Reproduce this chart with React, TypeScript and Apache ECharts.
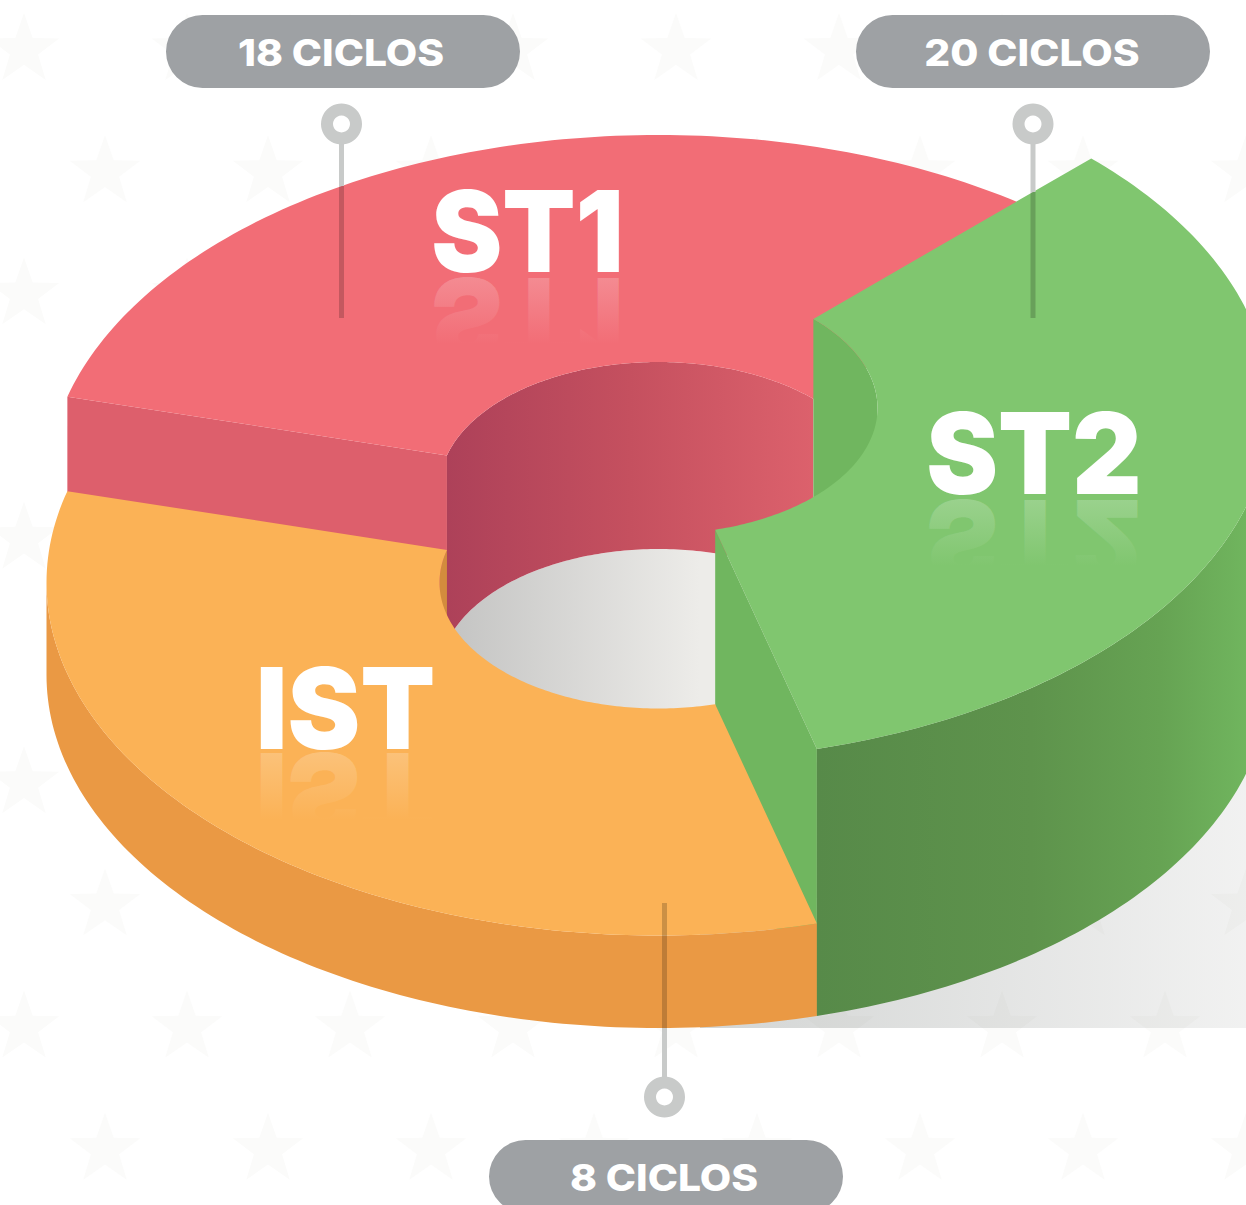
import React, { useEffect, useRef } from "react";
import * as echarts from "echarts";

const categories = ["ST1", "ST2", "IST"];
const cycles = [18, 20, 8];
const unitLabel = "CICLOS";

// layout of the exploded ring (picture space)
const W = 1246;
const H = 1205;
const CX = 658.5;
const RX = 612;
const RY = 353;
const IRX = 219;
const IRY = 126;
const FLOOR_Y = 675;
const SWEEP = 360 / categories.length;
const startAngles = [195, 315, 75];
const topCentres = [488, 408, 582.5];

const topColors = ["#f26d76", "#80c66f", "#fbb256"];
const labelPos = [
  { x: 527.5, cap: 231.5, sx: 0.945, base: 273, half: 97 },
  { x: 1034, cap: 453.5, sx: 0.955, base: 495, half: 110 },
  { x: 345.5, cap: 707.5, sx: 0.967, base: 749, half: 92 },
];
const pillPos = [
  { x: 343, y: 51.5, tx: 341 },
  { x: 1033, y: 51.5, tx: 1032 },
  { x: 666, y: 1176.5, tx: 664 },
];
const stemPos = [
  { x: 341.5, ring: 124, from: 144, edge: 186, to: 318 },
  { x: 1033, ring: 124, from: 144, edge: 192, to: 318 },
  { x: 664.5, ring: 1097, from: 903, edge: 1028, to: 1077 },
];

type P = number[];
function arc(cy: number, rx: number, ry: number, a0: number, a1: number, dy = 0): P[] {
  const n = Math.max(2, Math.ceil(Math.abs(a1 - a0)));
  const out: P[] = [];
  for (let i = 0; i <= n; i++) {
    const a = ((a0 + ((a1 - a0) * i) / n) * Math.PI) / 180;
    out.push([CX + rx * Math.cos(a), cy + ry * Math.sin(a) + dy]);
  }
  return out;
}
function hGrad(x0: number, x1: number, stops: [number, string][]) {
  return new echarts.graphic.LinearGradient(
    x0, 0, x1, 0,
    stops.map(([offset, color]) => ({ offset, color })),
    true
  );
}
function poly(points: P[], fill: any, z2: number) {
  return { type: "polygon", z2, shape: { points }, style: { fill } };
}
function annulus(cy: number, a0: number, a1: number, fill: any, z2: number) {
  return poly(
    [...arc(cy, RX, RY, a0, a1), ...arc(cy, IRX, IRY, a1, a0)],
    fill,
    z2
  );
}
function extruded(cy: number, rx: number, ry: number, a0: number, a1: number, fill: any, z2: number) {
  const h = FLOOR_Y - cy;
  return poly([...arc(cy, rx, ry, a0, a1), ...arc(cy, rx, ry, a1, a0, h)], fill, z2);
}
function radialFace(cy: number, a: number, fill: any, z2: number) {
  const h = FLOOR_Y - cy;
  const o = arc(cy, RX, RY, a, a + 1)[0];
  const i = arc(cy, IRX, IRY, a, a + 1)[0];
  return poly([o, i, [i[0], i[1] + h], [o[0], o[1] + h]], fill, z2);
}

const FONT = "Inter";

function renderSegment(_: any, api: any) {
  const idx = api.value(0);
  const value = api.value(1);
  const cy = topCentres[idx];
  const a0 = startAngles[idx];
  const a1 = a0 + SWEEP;
  const base = topColors[idx];
  const children: any[] = [];

  if (idx === 0) {
    children.push(radialFace(cy, a0, "#dd5f6c", 1));
    children.push(
      extruded(cy, IRX, IRY, a0, a1, hGrad(447, 813, [[0, "#ad4159"], [0.5, "#c5505f"], [1, "#dc616c"]]), 2)
    );
  }
  if (idx === 1) {
    children.push(extruded(cy, IRX, IRY, a0, 360, "#70b65f", 4));
    children.push(radialFace(cy, a1, "#70b65f", 4));
    children.push(
      extruded(cy, RX, RY, 360, a1, hGrad(817, 1246, [[0, "#578a49"], [0.5, "#5e934c"], [0.8, "#66a353"], [1, "#70b55e"]]), 8)
    );
  }
  if (idx === 2) {
    children.push(
      poly(
        arc(FLOOR_Y, IRX, IRY, 180, 540),
        hGrad(450, 700, [[0, "#c4c4c3"], [1, "#edece9"]]),
        0
      )
    );
    children.push(extruded(cy, IRX, IRY, 180, a1, "#d38c3d", 1.5));
    children.push(extruded(cy, RX, RY, a0, 180, "#ea9944", 6));
  }
  children.push(annulus(cy, a0, a1, base, idx === 1 ? 9 : idx === 0 ? 3 : 7));

  // big label + faded mirror
  const lp = labelPos[idx];
  const textStyle = {
    text: categories[idx],
    fontFamily: FONT,
    fontWeight: 900,
    fontSize: 113,
    align: "center",
    verticalAlign: "middle",
  };
  const elY = lp.cap;
  const mirror = lp.base + 2;
  children.push({
    type: "text", z2: 20, x: lp.x, y: elY, scaleX: lp.sx,
    style: { ...textStyle, fill: "#ffffff" },
  });
  children.push({
    type: "text", z2: 19, x: lp.x, y: 2 * mirror - elY, scaleX: lp.sx, scaleY: -1,
    style: { ...textStyle, fill: "rgba(255,255,255,0.22)" },
  });
  children.push({
    type: "rect", z2: 19.5,
    shape: { x: lp.x - lp.half, y: mirror, width: lp.half * 2, height: 88 },
    style: {
      fill: new echarts.graphic.LinearGradient(0, 0, 0, 1, [
        { offset: 0, color: echarts.color.modifyAlpha(base, 0) },
        { offset: 0.78, color: echarts.color.modifyAlpha(base, 1) },
        { offset: 1, color: echarts.color.modifyAlpha(base, 1) },
      ]),
    },
  });

  // stem, ring and pill
  const s = stemPos[idx];
  const pill = pillPos[idx];
  const isTop = s.ring < s.edge;
  children.push({
    type: "rect", z2: 30,
    shape: isTop
      ? { x: s.x - 2.5, y: s.from, width: 5, height: s.edge - s.from }
      : { x: s.x - 2.5, y: s.edge, width: 5, height: s.to - s.edge },
    style: { fill: "#c8cac9" },
  });
  children.push({
    type: "rect", z2: 30,
    shape: isTop
      ? { x: s.x - 2.5, y: s.edge, width: 5, height: s.to - s.edge }
      : { x: s.x - 2.5, y: s.from, width: 5, height: s.edge - s.from },
    style: { fill: "rgba(0,0,0,0.19)" },
  });
  children.push({
    type: "ring", z2: 31,
    shape: { cx: s.x, cy: s.ring, r: 20.5, r0: 8.5 },
    style: { fill: "#c8cac9" },
  });
  children.push({
    type: "rect", z2: 32,
    shape: { x: pill.x - 177, y: pill.y - 36.5, width: 354, height: 73, r: 36.5 },
    style: { fill: "#9ea1a4" },
  });
  children.push({
    type: "text", z2: 33, x: pill.tx, y: pill.y + 0.5, scaleX: 1.1,
    style: {
      text: `${value} ${unitLabel}`,
      fontFamily: FONT,
      fontWeight: 800,
      fontSize: 37,
      align: "center",
      verticalAlign: "middle",
      fill: "#ffffff",
    },
  });
  return { type: "group", children };
}

function starPoints(cx: number, cy: number, R: number): P[] {
  const pts: P[] = [];
  for (let i = 0; i < 10; i++) {
    const r = i % 2 === 0 ? R : R * 0.4;
    const a = (-90 + i * 36) * (Math.PI / 180);
    pts.push([cx + r * Math.cos(a), cy + r * Math.sin(a)]);
  }
  return pts;
}

function backdrop() {
  const items: any[] = [];
  for (let row = 0; row < 10; row++) {
    const y = 50 + 122.2 * row;
    const x0 = row % 2 === 0 ? 24 : 105;
    for (let col = 0; col < 8; col++) {
      items.push({
        type: "polygon",
        silent: true,
        shape: { points: starPoints(x0 + 163 * col, y, 37) },
        style: { fill: "#fbfbfa" },
      });
    }
  }
  items.push({
    type: "rect",
    silent: true,
    shape: { x: 700, y: 700, width: W - 700, height: 328 },
    style: {
      fill: new echarts.graphic.LinearGradient(0, 0, 1, 0, [
        { offset: 0, color: "rgba(55,65,60,0.22)" },
        { offset: 1, color: "rgba(55,60,55,0.07)" },
      ]),
    },
  });
  return items;
}

export default function App() {
  const ref = useRef<HTMLDivElement>(null);
  useEffect(() => {
    const chart = echarts.init(ref.current!, undefined, { renderer: "svg" });
    chart.setOption({
      animation: false,
      backgroundColor: "#ffffff",
      graphic: { elements: backdrop() },
      series: [
        {
          type: "custom",
          coordinateSystem: "none",
          z: 10,
          silent: true,
          clip: false,
          renderItem: renderSegment,
          data: categories.map((_, i) => [i, cycles[i]]),
          encode: { value: [0, 1] },
        },
      ],
    });
    return () => chart.dispose();
  }, []);
  return (
    <div
      ref={ref}
      style={{ position: "absolute", left: 0, top: 0, width: W, height: H, overflow: "hidden" }}
    />
  );
}
